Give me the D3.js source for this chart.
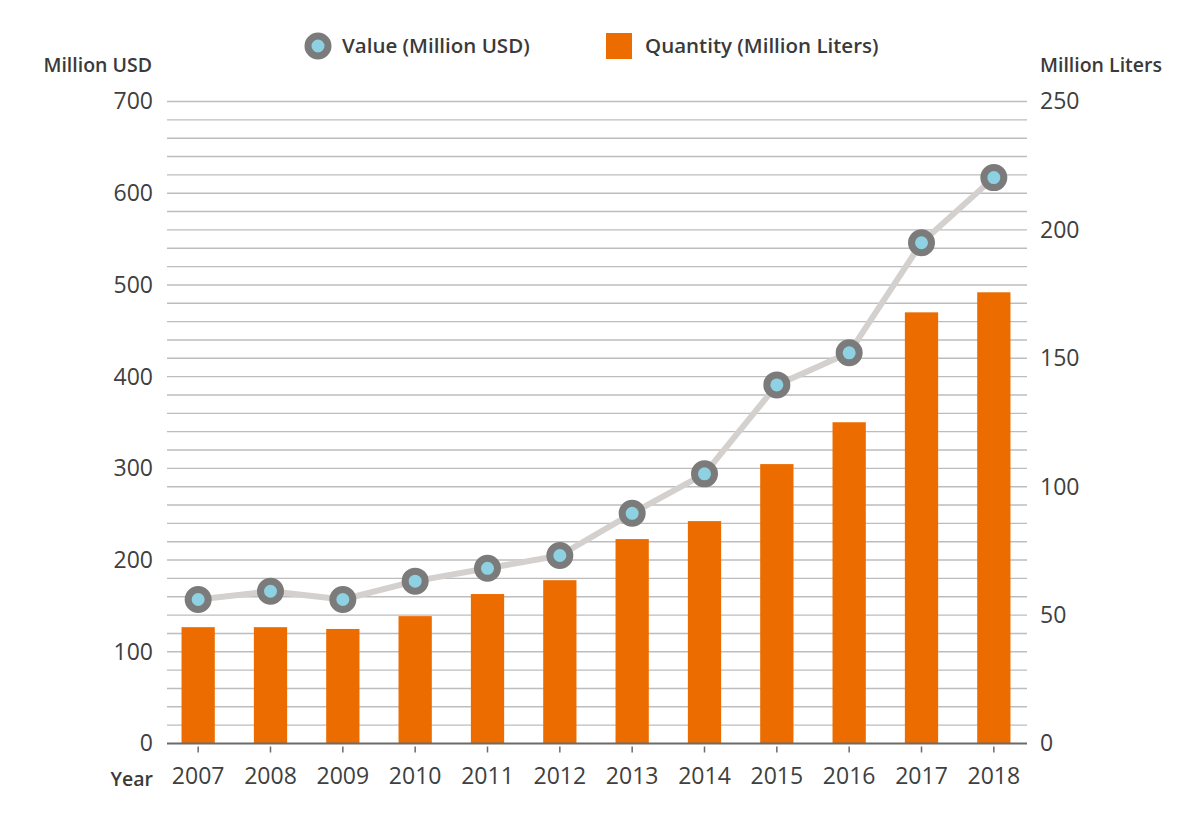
<!DOCTYPE html>
<html>
<head>
<meta charset="utf-8">
<script src="https://cdn.jsdelivr.net/npm/d3@7"></script>
<style>
  html, body { margin: 0; padding: 0; background: #fff; }
  svg { display: block; font-family: "Open Sans", Lato, "Noto Sans", sans-serif; }
</style>
</head>
<body>
<svg id="chart" width="1200" height="820"></svg>
<script>
const years = ["2007","2008","2009","2010","2011","2012","2013","2014","2015","2016","2017","2018"];
const valueUSD = [157, 166, 157, 177, 191, 205, 251, 294, 391, 426, 546, 617];
const quantityLiters = [45.3, 45.3, 44.6, 49.6, 58.2, 63.6, 79.6, 86.6, 108.8, 125.1, 167.9, 175.7];
const leftTicks = [0, 100, 200, 300, 400, 500, 600, 700];
const rightTicks = [0, 50, 100, 150, 200, 250];
const gridValues = d3.range(0, 701, 20);
const seriesNames = ["Value (Million USD)", "Quantity (Million Liters)"];

(function () {
const svg = d3.select("#chart");
const plotTop = 101.5, plotBottom = 743.5, gridL = 167, gridR = 1027;
const tickFont = "'Open Sans', Lato, sans-serif";

const x = d3.scaleBand().domain(years).range([162, 1030]).paddingInner(0.54).paddingOuter(0.27);
const yL = d3.scaleLinear().domain([0, 700]).range([plotBottom, plotTop]);
const yR = d3.scaleLinear().domain([0, 250]).range([plotBottom, plotTop]);
const cx = d => x(d) + x.bandwidth() / 2;

// gridlines
svg.append("g").selectAll("line").data(gridValues.filter(v => v > 0)).join("line")
  .attr("x1", gridL).attr("x2", gridR)
  .attr("y1", d => yL(d)).attr("y2", d => yL(d))
  .attr("stroke", "#bdbdbd").attr("stroke-width", 1.4);

// bars
svg.append("g").selectAll("rect").data(years).join("rect")
  .attr("x", d => x(d)).attr("width", x.bandwidth())
  .attr("y", (d, i) => yR(quantityLiters[i]))
  .attr("height", (d, i) => plotBottom - yR(quantityLiters[i]))
  .attr("fill", "#ec6c00");

// baseline axis
const xAxis = d3.axisBottom(x).tickSize(6).tickPadding(18);
const gx = svg.append("g").attr("transform", `translate(0,${plotBottom})`).call(xAxis);
gx.select(".domain").remove();
gx.append("line").attr("x1", gridL).attr("x2", gridR).attr("y1", 0).attr("y2", 0)
  .attr("stroke", "#6b6b6b").attr("stroke-width", 2);
gx.selectAll(".tick line").attr("stroke", "#6b6b6b").attr("stroke-width", 1.5).attr("y1", 3).attr("y2", 9);
gx.selectAll(".tick text").attr("font-size", 23).attr("fill", "#404040")
  .attr("font-family", tickFont);

// left axis
const gl = svg.append("g").attr("transform", `translate(153,0)`)
  .call(d3.axisLeft(yL).tickValues(leftTicks).tickSize(0).tickPadding(0));
gl.select(".domain").remove();
gl.selectAll(".tick text").attr("font-size", 23).attr("fill", "#404040")
  .attr("font-family", tickFont);

// right axis
const gr = svg.append("g").attr("transform", `translate(1040,0)`)
  .call(d3.axisRight(yR).tickValues(rightTicks).tickSize(0).tickPadding(0));
gr.select(".domain").remove();
gr.selectAll(".tick text").attr("font-size", 23).attr("fill", "#404040")
  .attr("font-family", tickFont);

// axis titles
svg.append("text").attr("x", 152).attr("y", 72).attr("text-anchor", "end")
  .attr("font-size", 19.5).attr("font-weight", 600).attr("fill", "#3a3a3a").text("Million USD");
svg.append("text").attr("x", 1040).attr("y", 72).attr("text-anchor", "start")
  .attr("font-size", 19.5).attr("font-weight", 600).attr("fill", "#3a3a3a").text("Million Liters");
svg.append("text").attr("x", 153).attr("y", 786).attr("text-anchor", "end")
  .attr("font-size", 19.5).attr("font-weight", 600).attr("fill", "#3a3a3a").text("Year");

// line
const line = d3.line().x((d, i) => cx(years[i])).y(d => yL(d));
svg.append("path").datum(valueUSD).attr("d", line)
  .attr("fill", "none").attr("stroke", "#d4d0cd").attr("stroke-width", 6).attr("stroke-linejoin", "round");

svg.append("g").selectAll("circle").data(valueUSD).join("circle")
  .attr("cx", (d, i) => cx(years[i])).attr("cy", d => yL(d)).attr("r", 10)
  .attr("fill", "#8dd1e3").attr("stroke", "#7b7b7b").attr("stroke-width", 7);

// legend
const lg = svg.append("g");
lg.append("circle").attr("cx", 318).attr("cy", 46).attr("r", 10)
  .attr("fill", "#8dd1e3").attr("stroke", "#7b7b7b").attr("stroke-width", 7);
lg.append("text").attr("x", 342).attr("y", 53).attr("font-size", 20.5).attr("font-weight", 600)
  .attr("fill", "#3a3a3a").text(seriesNames[0]);
lg.append("rect").attr("x", 606).attr("y", 33).attr("width", 26).attr("height", 26).attr("fill", "#ec6c00");
lg.append("text").attr("x", 645).attr("y", 53).attr("font-size", 20.5).attr("font-weight", 600)
  .attr("fill", "#3a3a3a").text(seriesNames[1]);
})();
</script>
</body>
</html>
